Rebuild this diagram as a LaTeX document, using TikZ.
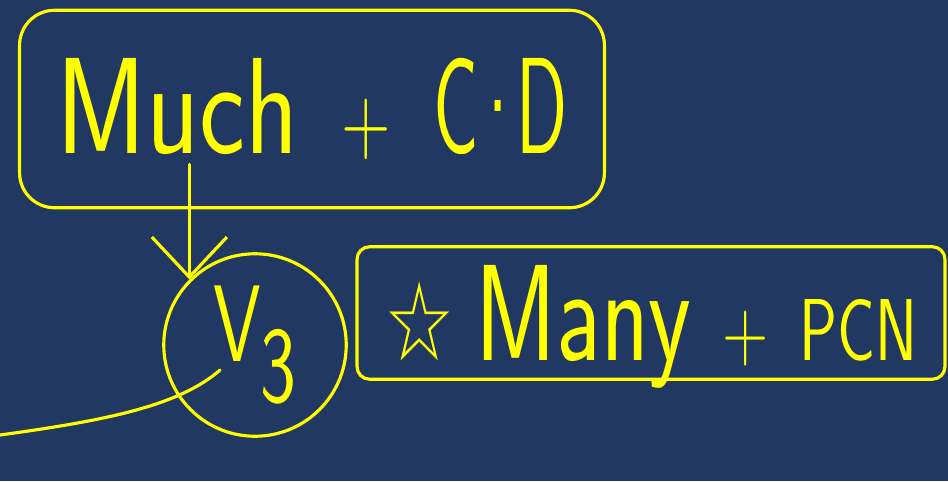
\documentclass[tikz,border=0pt]{standalone}
\usepackage{fontspec}
\usepackage{tikz}
\usetikzlibrary{arrows.meta, positioning, calc}
\newfontfamily\starfont{DejaVu Sans}
\definecolor{boardblue}{RGB}{32,56,98}
\definecolor{penyellow}{RGB}{255,255,0}
\tikzset{
  box/.style={rectangle, draw=penyellow, line width=1.8pt, line join=round, text=penyellow, inner sep=0pt, font=\sffamily\fontsize{78}{78}\selectfont},
  ring/.style={circle, draw=penyellow, line width=1.8pt, minimum size=3.65cm, inner sep=0pt, text=penyellow, font=\sffamily\fontsize{62}{62}\selectfont},
  pen/.style={draw=penyellow, line width=1.8pt, line cap=round, line join=round},
  arrow/.style={pen, -{Straight Barb[length=0.8cm, width=1.5cm]}}
}
\begin{document}
\begin{tikzpicture}[x=0.02cm, y=-0.02cm]
  \fill [boardblue] (0,0) rectangle (948,481);
  \useasboundingbox (0,0) rectangle (948,481);
  % caja de arriba
  \node (much) [box, rounded corners=0.7cm, minimum width=11.7cm, minimum height=3.95cm] at (312,109)
    {\scalebox{0.8}[1]{Much} {\fontsize{55}{55}\selectfont\scalebox{0.7}[1]{+}} \scalebox{0.55}[1]{C\kern-0.12em·\kern-0.12em D}};
  % circulo
  \node (v3) [ring] at (255,345) {\scalebox{0.7}[1]{V\raisebox{-0.37em}{3}}};
  \draw [arrow] ($(much.south -| v3.north west)+(0,-45)$) -- (v3.north west);
  % linea de la izquierda
  \coordinate (lft) at (0,435);
  \draw [pen] (lft) .. controls (110,420) and (180,405) .. ([shift={(-35,25)}]v3.center);
  % caja de la derecha
  \node (many) [box, rounded corners=0.25cm, minimum width=11.76cm, minimum height=2.65cm, text height=64pt, text depth=10pt] at (651,313)
    {\scalebox{0.72}[1]{{\starfont\fontsize{62}{62}\selectfont ☆}\kern-0.1em{} Many {\fontsize{50}{50}\selectfont +} {\fontsize{50}{50}\selectfont PCN}}};
\end{tikzpicture}
\end{document}
